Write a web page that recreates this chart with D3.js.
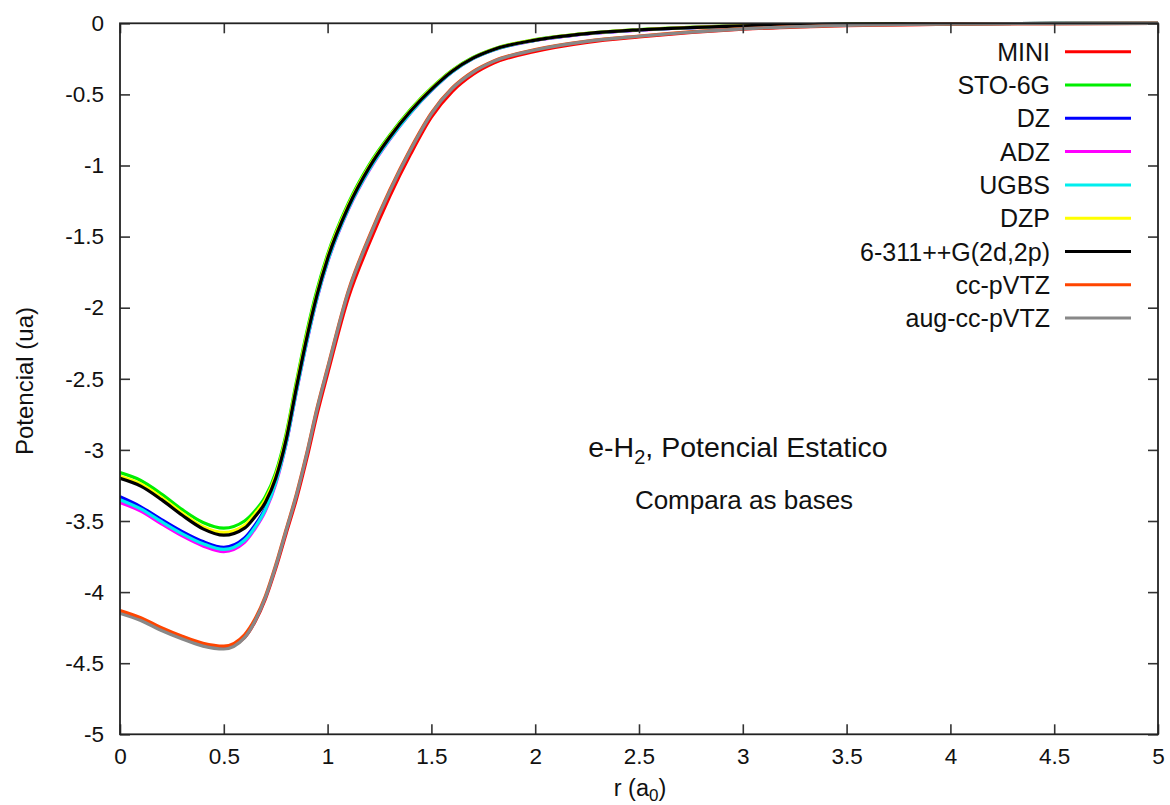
<!DOCTYPE html>
<html>
<head>
<meta charset="utf-8">
<script src="https://cdn.jsdelivr.net/npm/d3@7/dist/d3.min.js"></script>
<style>
  html, body { margin: 0; padding: 0; background: #fff; }
  svg { display: block; }
  text { font-family: "Liberation Sans", Arial, Helvetica, sans-serif; fill: #111; }
</style>
</head>
<body>
<svg id="chart" width="1170" height="805"></svg>
<script>
// Radial grid (bohr) shared by every basis-set curve
const rGrid = [0, 0.1, 0.2, 0.3, 0.4, 0.5, 0.6, 0.65, 0.7, 0.75, 0.8, 0.85, 0.9, 0.95, 1.0,
               1.1, 1.2, 1.3, 1.4, 1.5, 1.6, 1.7, 1.8, 2.0, 2.25, 2.5, 3.0, 3.5, 4.0, 4.5, 5.0];

// Static potential (a.u.) for each basis set
const vMINI   = [-4.14, -4.19, -4.26, -4.32, -4.37, -4.39, -4.32, -4.21, -4.05, -3.835, -3.59, -3.345, -3.06, -2.745, -2.465,
                 -1.93, -1.55, -1.215, -0.92, -0.66, -0.48, -0.36, -0.28, -0.198, -0.134, -0.096, -0.042, -0.016, -0.006, -0.002, 0];
const vSTO6G  = [-3.16, -3.215, -3.31, -3.42, -3.51, -3.55, -3.50, -3.43, -3.33, -3.16, -2.89, -2.52, -2.17, -1.87, -1.625,
                 -1.265, -0.995, -0.785, -0.605, -0.455, -0.33, -0.24, -0.18, -0.115, -0.07, -0.045, -0.017, -0.006, -0.002, -0.001, 0];
const vDZ     = [-3.33, -3.40, -3.49, -3.575, -3.645, -3.685, -3.62, -3.53, -3.41, -3.22, -2.95, -2.58, -2.23, -1.92, -1.67,
                 -1.30, -1.025, -0.81, -0.625, -0.47, -0.34, -0.247, -0.186, -0.119, -0.073, -0.047, -0.018, -0.0065, -0.002, -0.001, 0];
const vADZ    = [-3.37, -3.43, -3.52, -3.605, -3.675, -3.715, -3.65, -3.555, -3.43, -3.24, -2.96, -2.59, -2.24, -1.93, -1.68,
                 -1.31, -1.035, -0.816, -0.63, -0.474, -0.343, -0.249, -0.188, -0.121, -0.074, -0.048, -0.018, -0.0065, -0.002, -0.001, 0];
const vUGBS   = [-3.35, -3.415, -3.505, -3.59, -3.66, -3.70, -3.635, -3.545, -3.42, -3.23, -2.955, -2.585, -2.235, -1.925, -1.675,
                 -1.305, -1.03, -0.813, -0.628, -0.472, -0.342, -0.248, -0.187, -0.12, -0.073, -0.047, -0.018, -0.0065, -0.002, -0.001, 0];
const vDZP    = [-3.185, -3.24, -3.335, -3.445, -3.54, -3.58, -3.53, -3.45, -3.35, -3.18, -2.91, -2.54, -2.19, -1.89, -1.64,
                 -1.278, -1.005, -0.793, -0.611, -0.46, -0.334, -0.243, -0.182, -0.117, -0.071, -0.0455, -0.017, -0.006, -0.002, -0.001, 0];
const v6311   = [-3.20, -3.255, -3.35, -3.46, -3.555, -3.60, -3.55, -3.47, -3.37, -3.20, -2.93, -2.56, -2.21, -1.905, -1.655,
                 -1.29, -1.015, -0.80, -0.617, -0.465, -0.337, -0.245, -0.184, -0.118, -0.072, -0.046, -0.0175, -0.0065, -0.002, -0.001, 0];
const vCCPVTZ = [-4.13, -4.18, -4.25, -4.31, -4.36, -4.38, -4.30, -4.19, -4.03, -3.81, -3.56, -3.31, -3.02, -2.70, -2.42,
                 -1.88, -1.50, -1.17, -0.88, -0.63, -0.455, -0.34, -0.265, -0.185, -0.125, -0.09, -0.038, -0.014, -0.005, -0.002, 0];
const vAUGCC  = [-4.15, -4.20, -4.27, -4.33, -4.38, -4.40, -4.32, -4.205, -4.04, -3.82, -3.57, -3.32, -3.03, -2.71, -2.43,
                 -1.89, -1.51, -1.18, -0.89, -0.637, -0.46, -0.345, -0.268, -0.188, -0.127, -0.091, -0.039, -0.014, -0.005, -0.002, 0];

const seriesNames  = ["MINI", "STO-6G", "DZ", "ADZ", "UGBS", "DZP", "6-311++G(2d,2p)", "cc-pVTZ", "aug-cc-pVTZ"];
const seriesValues = [vMINI, vSTO6G, vDZ, vADZ, vUGBS, vDZP, v6311, vCCPVTZ, vAUGCC];
const seriesColors = ["#ff0000", "#00ee00", "#0000ff", "#ff00ff", "#00eeee", "#ffff00", "#000000", "#ff4500", "#888888"];

const xTicks = [0, 0.5, 1, 1.5, 2, 2.5, 3, 3.5, 4, 4.5, 5];
const xTickLabels = ["0", "0.5", "1", "1.5", "2", "2.5", "3", "3.5", "4", "4.5", "5"];
const yTicks = [0, -0.5, -1, -1.5, -2, -2.5, -3, -3.5, -4, -4.5, -5];
const yTickLabels = ["0", "-0.5", "-1", "-1.5", "-2", "-2.5", "-3", "-3.5", "-4", "-4.5", "-5"];

const svg = d3.select("#chart");
const plot = { left: 120, right: 1158, top: 23.3, bottom: 734.3 };

const x = d3.scaleLinear().domain([0, 5]).range([plot.left, plot.right]);
const y = d3.scaleLinear().domain([-5, 0]).range([plot.bottom, plot.top]);

svg.append("defs").append("clipPath").attr("id", "plotClip")
  .append("rect")
  .attr("x", plot.left).attr("y", plot.top - 2)
  .attr("width", plot.right - plot.left).attr("height", plot.bottom - plot.top + 2);

// Curves, drawn in legend order so later sets sit on top
const line = d3.line()
  .x((d, i) => x(rGrid[i]))
  .y(d => y(d))
  .curve(d3.curveMonotoneX);

const curves = svg.append("g").attr("clip-path", "url(#plotClip)");
seriesValues.forEach((vals, k) => {
  curves.append("path")
    .datum(vals)
    .attr("d", line)
    .attr("fill", "none")
    .attr("stroke", seriesColors[k])
    .attr("stroke-width", 3.2)
    .attr("stroke-linejoin", "round");
});

// Axes: inward ticks on all four sides, labels on left and bottom
const tickLen = 10;
const axisStyle = g => {
  g.select(".domain").remove();
  g.selectAll(".tick line").attr("stroke", "#333").attr("stroke-width", 1.6);
};
const labelStyle = g => g.selectAll(".tick text")
  .attr("font-size", 22.5).attr("fill", "#111")
  .attr("font-family", '"Liberation Sans", Arial, sans-serif');

svg.append("g")
  .attr("transform", `translate(${plot.left},0)`)
  .call(d3.axisLeft(y).tickValues(yTicks).tickSize(-tickLen).tickPadding(16)
        .tickFormat((d, i) => yTickLabels[i]))
  .call(axisStyle)
  .call(labelStyle);

svg.append("g")
  .attr("transform", `translate(${plot.right},0)`)
  .call(d3.axisRight(y).tickValues(yTicks).tickSize(-tickLen).tickFormat(""))
  .call(axisStyle);

svg.append("g")
  .attr("transform", `translate(0,${plot.bottom})`)
  .call(d3.axisBottom(x).tickValues(xTicks).tickSize(-tickLen).tickPadding(14)
        .tickFormat((d, i) => xTickLabels[i]))
  .call(axisStyle)
  .call(labelStyle);

svg.append("g")
  .attr("transform", `translate(0,${plot.top})`)
  .call(d3.axisTop(x).tickValues(xTicks).tickSize(-tickLen).tickFormat(""))
  .call(axisStyle);

// Frame
svg.append("rect")
  .attr("x", plot.left).attr("y", plot.top)
  .attr("width", plot.right - plot.left).attr("height", plot.bottom - plot.top)
  .attr("fill", "none").attr("stroke", "#222").attr("stroke-width", 1.8);

// Axis titles
const xLabel = svg.append("text")
  .attr("x", 640).attr("y", 796)
  .attr("text-anchor", "middle").attr("font-size", 23.5);
xLabel.append("tspan").text("r (a");
xLabel.append("tspan").attr("font-size", 17).attr("dy", 5).text("0");
xLabel.append("tspan").attr("dy", -5).text(")");

svg.append("text")
  .attr("transform", "translate(33,381) rotate(-90)")
  .attr("text-anchor", "middle").attr("font-size", 24)
  .text("Potencial (ua)");

// Legend
const legend = svg.append("g");
seriesNames.forEach((name, k) => {
  const cy = 51.7 + k * 33.3;
  legend.append("text")
    .attr("x", 1050).attr("y", cy + 9)
    .attr("text-anchor", "end").attr("font-size", 25)
    .text(name);
  legend.append("line")
    .attr("x1", 1065).attr("x2", 1131).attr("y1", cy).attr("y2", cy)
    .attr("stroke", seriesColors[k]).attr("stroke-width", 3);
});

// Annotations
const title = svg.append("text")
  .attr("x", 738).attr("y", 457)
  .attr("text-anchor", "middle").attr("font-size", 28.5);
title.append("tspan").text("e-H");
title.append("tspan").attr("font-size", 20).attr("dy", 7).text("2");
title.append("tspan").attr("dy", -7).text(", Potencial Estatico");

svg.append("text")
  .attr("x", 744).attr("y", 509)
  .attr("text-anchor", "middle").attr("font-size", 26)
  .text("Compara as bases");
</script>
</body>
</html>
